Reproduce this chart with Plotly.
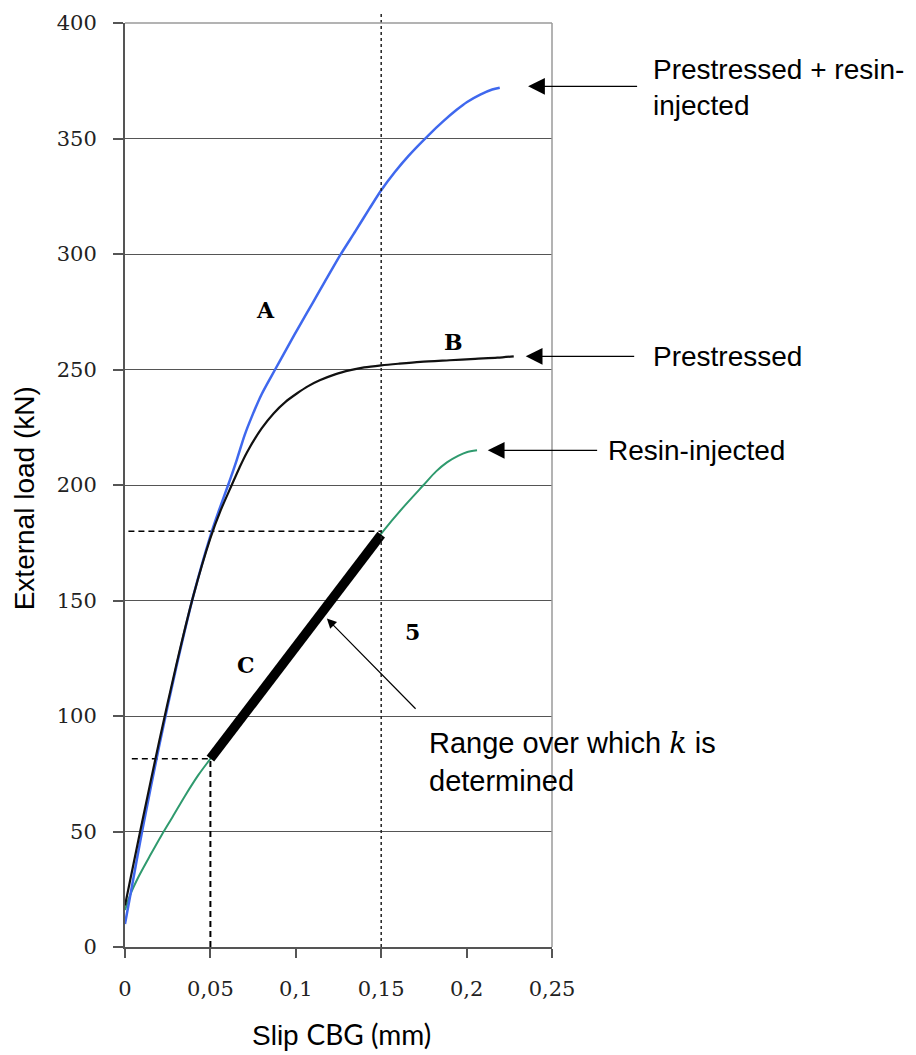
import plotly.graph_objects as go

# ---- measured load–slip curves (slip in mm, load in kN) ----
# A: prestressed + resin-injected
a_slip = [0.0, 0.004, 0.010, 0.020, 0.030, 0.040, 0.050, 0.0555, 0.0604, 0.0655, 0.0700,
          0.0742, 0.0800, 0.0879, 0.0950, 0.1030, 0.1100, 0.1170, 0.1260, 0.1350, 0.1430,
          0.1500, 0.1580, 0.1660, 0.1778, 0.1864, 0.1940, 0.2003, 0.2080, 0.2150, 0.2194]
a_load = [10, 26, 50, 87, 121, 152, 178, 190, 200, 211, 221.5,
          229.5, 239.3, 250, 259.5, 270, 279, 288, 299.5, 310, 319.5,
          327.6, 335.5, 342.5, 351.5, 357.5, 362.3, 365.8, 369, 371.2, 372]

# B: prestressed
b_slip = [0.0, 0.005, 0.010, 0.020, 0.030, 0.040, 0.050, 0.056, 0.0625, 0.0670, 0.0713,
          0.0800, 0.0870, 0.0940, 0.1006, 0.1070, 0.1140, 0.1230, 0.1320, 0.1400, 0.1500,
          0.1600, 0.1729, 0.1900, 0.2050, 0.2180, 0.2276]
b_load = [18, 36, 54, 89, 122, 152, 177, 189, 200, 207.5, 214,
          224.5, 231, 236, 239.6, 242.7, 245.3, 247.9, 249.7, 250.9, 251.8,
          252.5, 253.3, 254, 254.6, 255.1, 255.7]

# C: resin-injected
c_slip = [0.0, 0.003, 0.008, 0.015, 0.0215, 0.028, 0.0352, 0.043, 0.050, 0.075, 0.100,
          0.125, 0.150, 0.1625, 0.1748, 0.1820, 0.1885, 0.1950, 0.2000, 0.2061]
c_load = [16, 22.5, 30.5, 40, 48.5, 56.5, 65.5, 74.5, 81.5, 106, 130.5,
          155, 179, 190, 200, 205.8, 209.8, 212.6, 214.2, 215]

# ---- slip range used to determine the stiffness k ----
k_slip = [0.05, 0.15]
k_load = [81.5, 178.5]

# ---- axis ticks ----
x_ticks = [0, 0.05, 0.1, 0.15, 0.2, 0.25]
x_tick_labels = ["0", "0,05", "0,1", "0,15", "0,2", "0,25"]
y_ticks = [0, 50, 100, 150, 200, 250, 300, 350, 400]
y_tick_labels = ["0", "50", "100", "150", "200", "250", "300", "350", "400"]

SANS = "Liberation Sans, Arial, sans-serif"
SERIF = "DejaVu Serif, serif"
TXT = 28

fig = go.Figure()

# dashed guides marking the k range
fig.add_trace(go.Scatter(x=[0.002, k_slip[1]], y=[k_load[1] + 1.5] * 2, mode="lines",
                         line=dict(color="black", width=1.5, dash="6px,4px"), hoverinfo="skip"))
fig.add_trace(go.Scatter(x=[0.004, k_slip[0]], y=[k_load[0]] * 2, mode="lines",
                         line=dict(color="black", width=1.5, dash="6px,4px"), hoverinfo="skip"))
fig.add_trace(go.Scatter(x=[k_slip[0]] * 2, y=[0, k_load[0]], mode="lines",
                         line=dict(color="black", width=2, dash="6px,4px"), hoverinfo="skip"))

# curves
fig.add_trace(go.Scatter(x=c_slip, y=c_load, mode="lines", name="Resin-injected",
                         line=dict(color="#2f9a6e", width=2, shape="spline", smoothing=0.8)))
fig.add_trace(go.Scatter(x=a_slip, y=a_load, mode="lines", name="Prestressed + resin-injected",
                         line=dict(color="#3f68ee", width=2.5, shape="spline", smoothing=0.8)))
fig.add_trace(go.Scatter(x=b_slip, y=b_load, mode="lines", name="Prestressed",
                         line=dict(color="#111111", width=2.2, shape="spline", smoothing=0.8)))
fig.add_trace(go.Scatter(x=k_slip, y=k_load, mode="lines", name="k range",
                         line=dict(color="black", width=9.5)))

shapes = [
    # dotted vertical at the upper end of the k range
    dict(type="line", xref="x", yref="paper", x0=k_slip[1], x1=k_slip[1], y0=0, y1=1.01,
         line=dict(color="#222", width=1.5, dash="3px,3px"), layer="above"),
    # light frame on top and right
    dict(type="line", xref="paper", yref="paper", x0=0, x1=1, y0=1, y1=1,
         line=dict(color="#9a9a9a", width=1.5)),
    dict(type="line", xref="paper", yref="paper", x0=1, x1=1, y0=0, y1=1,
         line=dict(color="#9a9a9a", width=1.5)),
]

annotations = []

def arrow(tip_x, tip_y, tail_x, tail_y, size=2.8):
    annotations.append(dict(x=tip_x, y=tip_y, ax=tail_x, ay=tail_y, xref="x", yref="y",
                            axref="x", ayref="y", text="", showarrow=True, arrowhead=2,
                            arrowsize=size, arrowwidth=1.2, arrowcolor="black", standoff=0))

def label(x, y, text, size=TXT, font=SANS, xanchor="left", bold=False, xref="x"):
    annotations.append(dict(x=x, y=y, xref=xref, yref="y",
                            text=("<b>%s</b>" % text) if bold else text,
                            showarrow=False, xanchor=xanchor, yanchor="middle", align="left",
                            font=dict(family=font, size=size, color="black")))

# callouts at the curve ends (labels sit to the right of the plot area)
arrow(a_slip[-1] + 0.0166, a_load[-1] + 0.6, 0.3007, a_load[-1] + 0.6)
label(1.232, a_load[-1], "Prestressed + resin-<br>injected", xref="paper")
arrow(b_slip[-1] + 0.007, b_load[-1], 0.299, b_load[-1])
label(1.232, b_load[-1], "Prestressed", xref="paper")
arrow(c_slip[-1] + 0.0063, c_load[-1], 0.2773, c_load[-1])
label(1.1265, c_load[-1], "Resin-injected", xref="paper")

# callout for the k range
arrow(0.1182, 142.2, 0.171, 102.5, size=1.6)
label(0.177, 80.4, "Range over which <span style='font-family:DejaVu Serif'><i>k</i></span> is<br>determined",
      size=29)

# curve letters
label(0.0821, 275.6, "A", size=22, font=SERIF, xanchor="center", bold=True)
label(0.1924, 261.9, "B", size=22, font=SERIF, xanchor="center", bold=True)
label(0.0707, 122.0, "C", size=22, font=SERIF, xanchor="center", bold=True)
label(0.1684, 136.4, "5", size=22, font=SERIF, xanchor="center", bold=True)

# axis titles
annotations.append(dict(x=-0.2365, y=0.4856, xref="paper", yref="paper", text="External load (kN)",
                        textangle=-90, showarrow=False, xanchor="center", yanchor="middle",
                        font=dict(family=SANS, size=28, color="black")))
annotations.append(dict(x=0.507, y=-0.0945, xref="paper", yref="paper",
                        text="Slip <span style='font-family:Lato'>CBG (mm)</span>",
                        showarrow=False, xanchor="center", yanchor="middle",
                        font=dict(family=SANS, size=28, color="black")))

fig.update_layout(
    width=916, height=1055,
    margin=dict(l=125, r=364, t=23, b=108),
    paper_bgcolor="white", plot_bgcolor="white",
    showlegend=False,
    shapes=shapes, annotations=annotations,
    xaxis=dict(range=[0, 0.25], tickvals=x_ticks, ticktext=x_tick_labels,
               showgrid=False, zeroline=False, showline=True, linecolor="#555", linewidth=2,
               ticks="outside", ticklen=9, tickwidth=1.5, tickcolor="#555",
               ticklabelstandoff=13,
               tickfont=dict(family=SERIF, size=21, color="#222")),
    yaxis=dict(range=[0, 400], tickvals=y_ticks, ticktext=y_tick_labels,
               showgrid=True, gridcolor="#555", gridwidth=1.4, zeroline=False,
               showline=True, linecolor="#555", linewidth=2,
               ticks="outside", ticklen=10, tickwidth=1.5, tickcolor="#555",
               ticklabelstandoff=12,
               tickfont=dict(family=SERIF, size=21, color="#222")),
)

fig.write_html("out.html")
